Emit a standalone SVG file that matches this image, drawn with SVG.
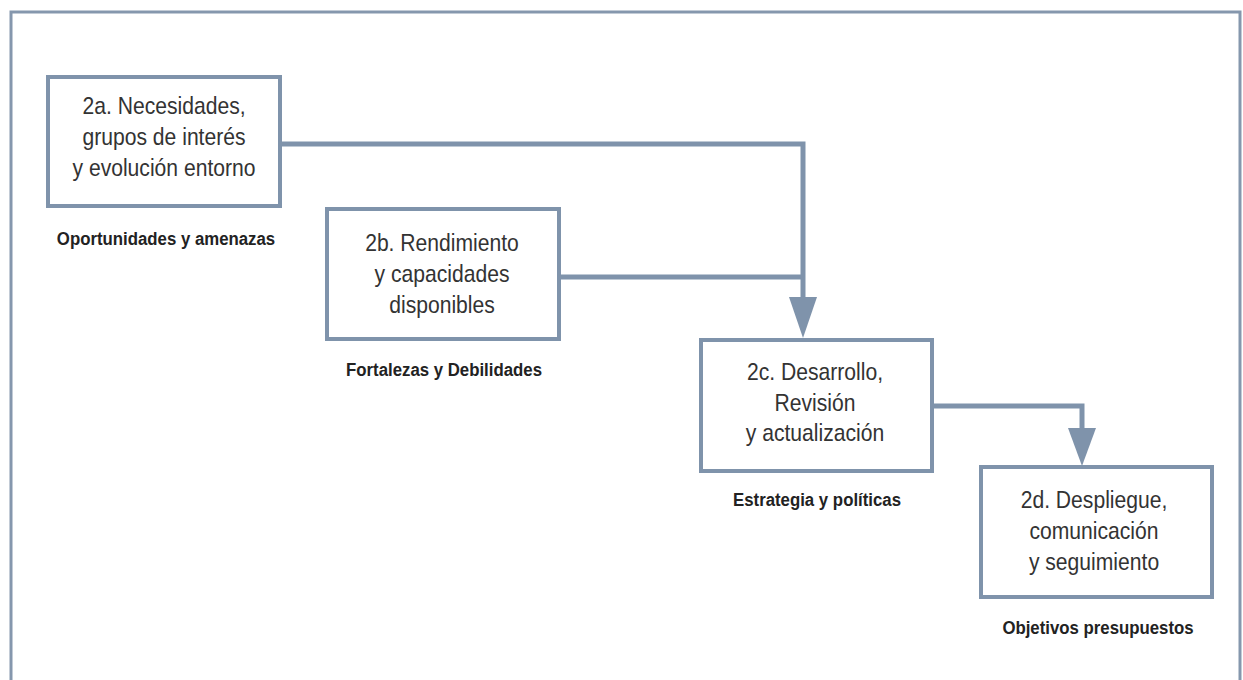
<svg xmlns="http://www.w3.org/2000/svg" width="1243" height="680" viewBox="0 0 1243 680">
<style>
.box{fill:#ffffff;stroke:#7f93ab;stroke-width:4}
.frame{fill:none;stroke:#8597ad;stroke-width:3}
.t{font-family:"Liberation Sans",Arial,sans-serif;font-size:24px;fill:#333333;text-anchor:middle}
.lbl{font-family:"Liberation Sans",Arial,sans-serif;font-size:19px;font-weight:bold;fill:#222222;text-anchor:middle}
.con{fill:none;stroke:#7f93ab;stroke-width:5;stroke-linejoin:miter}
.head{fill:#7f93ab}
</style>
<rect x="0" y="0" width="1243" height="680" fill="#ffffff"/>
<rect class="frame" x="11" y="12" width="1229" height="700"/>
<g id="connectors">
<path class="con" d="M282 144 H803 V300"/>
<path class="con" d="M560 277 H803"/>
<polygon class="head" points="789,297 817,297 803,338"/>
<path class="con" d="M933 406 H1082 V431"/>
<polygon class="head" points="1068,428 1096,428 1082,466"/>
</g>
<g id="n2a">
<rect class="box" x="48" y="77" width="232" height="129"/>
<g transform="translate(164 0) scale(0.88 1)">
<text class="t" x="0" y="114">2a. Necesidades,</text>
<text class="t" x="0" y="145">grupos de interés</text>
<text class="t" x="0" y="176">y evolución entorno</text>
</g>
<g transform="translate(166 0) scale(0.884 1)">
<text class="lbl" x="0" y="245">Oportunidades y amenazas</text>
</g>
</g>
<g id="n2b">
<rect class="box" x="327" y="209" width="232" height="130"/>
<g transform="translate(442 0) scale(0.88 1)">
<text class="t" x="0" y="251">2b. Rendimiento</text>
<text class="t" x="0" y="282">y capacidades</text>
<text class="t" x="0" y="313">disponibles</text>
</g>
<g transform="translate(444 0) scale(0.884 1)">
<text class="lbl" x="0" y="376">Fortalezas y Debilidades</text>
</g>
</g>
<g id="n2c">
<rect class="box" x="701" y="340" width="231" height="131"/>
<g transform="translate(815 0) scale(0.88 1)">
<text class="t" x="0" y="380">2c. Desarrollo,</text>
<text class="t" x="0" y="411">Revisión</text>
<text class="t" x="0" y="441">y actualización</text>
</g>
<g transform="translate(817 0) scale(0.884 1)">
<text class="lbl" x="0" y="506">Estrategia y políticas</text>
</g>
</g>
<g id="n2d">
<rect class="box" x="981" y="467" width="231" height="130"/>
<g transform="translate(1094 0) scale(0.88 1)">
<text class="t" x="0" y="508">2d. Despliegue,</text>
<text class="t" x="0" y="539">comunicación</text>
<text class="t" x="0" y="570">y seguimiento</text>
</g>
<g transform="translate(1098 0) scale(0.884 1)">
<text class="lbl" x="0" y="634">Objetivos presupuestos</text>
</g>
</g>
</svg>
